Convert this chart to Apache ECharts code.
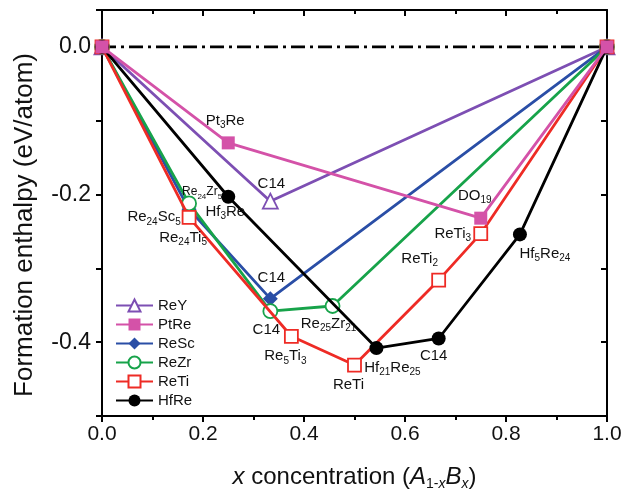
<!DOCTYPE html>
<html>
<head>
<meta charset="utf-8">
<script src="https://cdn.jsdelivr.net/npm/echarts@6/dist/echarts.min.js"></script>
<style>
html,body{margin:0;padding:0;background:#fff;}
#chart{width:624px;height:489px;}
</style>
</head>
<body>
<div id="chart"></div>
<script>
// ---- data ----
const seriesNames = ['ReY', 'PtRe', 'ReSc', 'ReZr', 'ReTi', 'HfRe'];

const reYX = [0, 1/3, 1];
const reYY = [0, -0.209, 0];
const reYLabels = ['', 'C14', ''];

const ptReX = [0, 0.25, 0.75, 1];
const ptReY = [0, -0.130, -0.232, 0];
const ptReLabels = ['', 'Pt{s|3}Re', 'DO{s|19}', ''];

const reScX = [0, 5/29, 1/3, 1];
const reScY = [0, -0.220, -0.341, 0];
const reScLabels = ['', 'Re{s|24}Sc{s|5}', 'C14', ''];

const reZrX = [0, 5/29, 1/3, 21/46, 1];
const reZrY = [0, -0.212, -0.358, -0.351, 0];
const reZrLabels = ['', '{t|Re}{ts|24}{t|Zr}{ts|5}', 'C14', 'Re{s|25}Zr{s|21}', ''];

const reTiX = [0, 5/29, 3/8, 1/2, 2/3, 3/4, 1];
const reTiY = [0, -0.231, -0.392, -0.431, -0.316, -0.253, 0];
const reTiLabels = ['', 'Re{s|24}Ti{s|5}', 'Re{s|5}Ti{s|3}', 'ReTi', 'ReTi{s|2}', 'ReTi{s|3}', ''];

const hfReX = [0, 1/4, 25/46, 2/3, 24/29, 1];
const hfReY = [0, -0.203, -0.408, -0.395, -0.254, 0];
const hfReLabels = ['', 'Hf{s|3}Re', 'Hf{s|21}Re{s|25}', 'C14', 'Hf{s|5}Re{s|24}', ''];

const zeroX = [0, 1];
const zeroY = [0, 0];

// ---- styles (label offsets relative to point) ----
const reYOff = [null, [1, -17], null];
const ptReOff = [null, [-3, -22], [-6, -22], null];
const reScOff = [null, [-35, 8], [1, -21], null];
const reZrOff = [null, [13, -12], [-4, 19], [-4, 18], null];
const reTiOff = [null, [-6, 20], [-6, 20], [-6, 20], [-19, -21], [-28, 0], null];
const hfReOff = [null, [-3, 15], [16, 20], [-5, 17], [25, 19], null];

const FONT = 'Liberation Sans, Arial, Helvetica, sans-serif';
const rich = {
  s: {fontSize: 10, fontFamily: FONT, color: '#111', verticalAlign: 'bottom', lineHeight: 10},
  t: {fontSize: 12, fontFamily: FONT, color: '#111', lineHeight: 18},
  ts: {fontSize: 8, fontFamily: FONT, color: '#111', verticalAlign: 'bottom', lineHeight: 8}
};

function build(xs, ys, labels, offs) {
  return xs.map((x, i) => {
    const d = {value: [x, ys[i]]};
    if (labels[i]) {
      d.label = {
        show: true, position: 'inside', offset: offs[i],
        formatter: labels[i], fontSize: 15, fontFamily: FONT, color: '#111',
        lineHeight: 19, rich: rich
      };
    }
    return d;
  });
}

const colors = {
  ReY: '#7d4fb3', PtRe: '#d452a8', ReSc: '#2a4ea6', ReZr: '#17a34a', ReTi: '#ee2b25', HfRe: '#000000'
};

function lineSeries(name, data, symbol, size, open, z) {
  const c = colors[name];
  return {
    name: name, type: 'line', data: data, symbol: symbol, symbolSize: size,
    showAllSymbol: true, z: z,
    lineStyle: {color: c, width: 2.8},
    itemStyle: open ? {color: '#fff', borderColor: c, borderWidth: 1.8} : {color: c, borderColor: c, borderWidth: 0},
    emphasis: {disabled: true},
    label: {show: false}
  };
}

const chart = echarts.init(document.getElementById('chart'), null, {renderer: 'canvas'});

const option = {
  animation: false,
  backgroundColor: '#fff',
  grid: {left: 102, right: 17, top: 10, bottom: 73, containLabel: false, outerBoundsMode: 'none'},
  legend: {
    orient: 'vertical', left: 110, top: 293, itemGap: 4, itemWidth: 37, itemHeight: 15,
    data: seriesNames,
    textStyle: {fontSize: 15, fontFamily: FONT, color: '#111'}
  },
  xAxis: [{
    type: 'value', min: 0, max: 1, interval: 0.2, position: 'bottom',
    name: '{i|x} concentration ({i|A}{sb|1-}{sbi|x}{i|B}{sbi|x})',
    nameLocation: 'middle', nameGap: 47,
    nameTextStyle: {
      fontSize: 24, fontFamily: FONT, color: '#111', lineHeight: 28,
      rich: {
        i: {fontSize: 24, fontStyle: 'italic', fontFamily: FONT, color: '#111', lineHeight: 28},
        sb: {fontSize: 14, fontFamily: FONT, color: '#111', verticalAlign: 'bottom', lineHeight: 14},
        sbi: {fontSize: 14, fontStyle: 'italic', fontFamily: FONT, color: '#111', verticalAlign: 'bottom', lineHeight: 14}
      }
    },
    axisLine: {show: true, onZero: false, lineStyle: {color: '#000', width: 2}},
    axisTick: {show: true, inside: false, length: 6, lineStyle: {color: '#000', width: 2}},
    minorTick: {show: true, splitNumber: 2, length: 4, lineStyle: {color: '#000', width: 2}},
    axisLabel: {fontSize: 21, fontFamily: FONT, color: '#111', margin: 8, formatter: v => v.toFixed(1)},
    splitLine: {show: false}, minorSplitLine: {show: false}
  }, {
    type: 'value', min: 0, max: 1, interval: 0.2, position: 'top',
    axisLine: {show: true, onZero: false, lineStyle: {color: '#000', width: 2}},
    axisTick: {show: true, inside: true, length: 6, lineStyle: {color: '#000', width: 2}},
    minorTick: {show: true, splitNumber: 2, length: 4, lineStyle: {color: '#000', width: 2}},
    axisLabel: {show: false}, splitLine: {show: false}
  }],
  yAxis: [{
    type: 'value', min: -0.5, max: 0.05, interval: 0.1, position: 'left',
    name: 'Formation enthalpy (eV/atom)', nameLocation: 'middle', nameGap: 64,
    nameTextStyle: {fontSize: 26, fontFamily: FONT, color: '#111', padding: [0, 24, 0, 0]},
    axisLine: {show: true, onZero: false, lineStyle: {color: '#000', width: 2}},
    axisTick: {show: true, inside: false, length: 6, lineStyle: {color: '#000', width: 2}},
    axisLabel: {
      fontSize: 23, fontFamily: FONT, color: '#111', margin: 11,
      formatter: v => {
        const r = Math.round(v * 10);
        if (Math.abs(v * 10 - r) > 1e-6 || r % 2 !== 0) return '';
        return (r === 0 ? 0 : v).toFixed(1);
      }
    },
    splitLine: {show: false}
  }, {
    type: 'value', min: -0.5, max: 0.05, interval: 0.1, position: 'right',
    axisLine: {show: true, onZero: false, lineStyle: {color: '#000', width: 2}},
    axisTick: {show: true, inside: true, length: 6, lineStyle: {color: '#000', width: 2}},
    axisLabel: {show: false}, splitLine: {show: false}
  }],
  series: [
    {
      name: 'zero', type: 'line', data: zeroX.map((x, i) => [x, zeroY[i]]), symbol: 'none', z: 1,
      lineStyle: {color: '#000', width: 2.8, type: [14, 5, 3, 5]}, emphasis: {disabled: true}
    },
    lineSeries('ReY', build(reYX, reYY, reYLabels, reYOff), 'triangle', 15, true, 2),
    lineSeries('ReSc', build(reScX, reScY, reScLabels, reScOff), 'diamond', 15, false, 3),
    lineSeries('ReZr', build(reZrX, reZrY, reZrLabels, reZrOff), 'circle', 14, true, 4),
    lineSeries('ReTi', build(reTiX, reTiY, reTiLabels, reTiOff), 'rect', 13, true, 5),
    lineSeries('HfRe', build(hfReX, hfReY, hfReLabels, hfReOff), 'circle', 14, false, 6),
    lineSeries('PtRe', build(ptReX, ptReY, ptReLabels, ptReOff), 'rect', 13, false, 7)
  ]
};
chart.setOption(option);
</script>
</body>
</html>
